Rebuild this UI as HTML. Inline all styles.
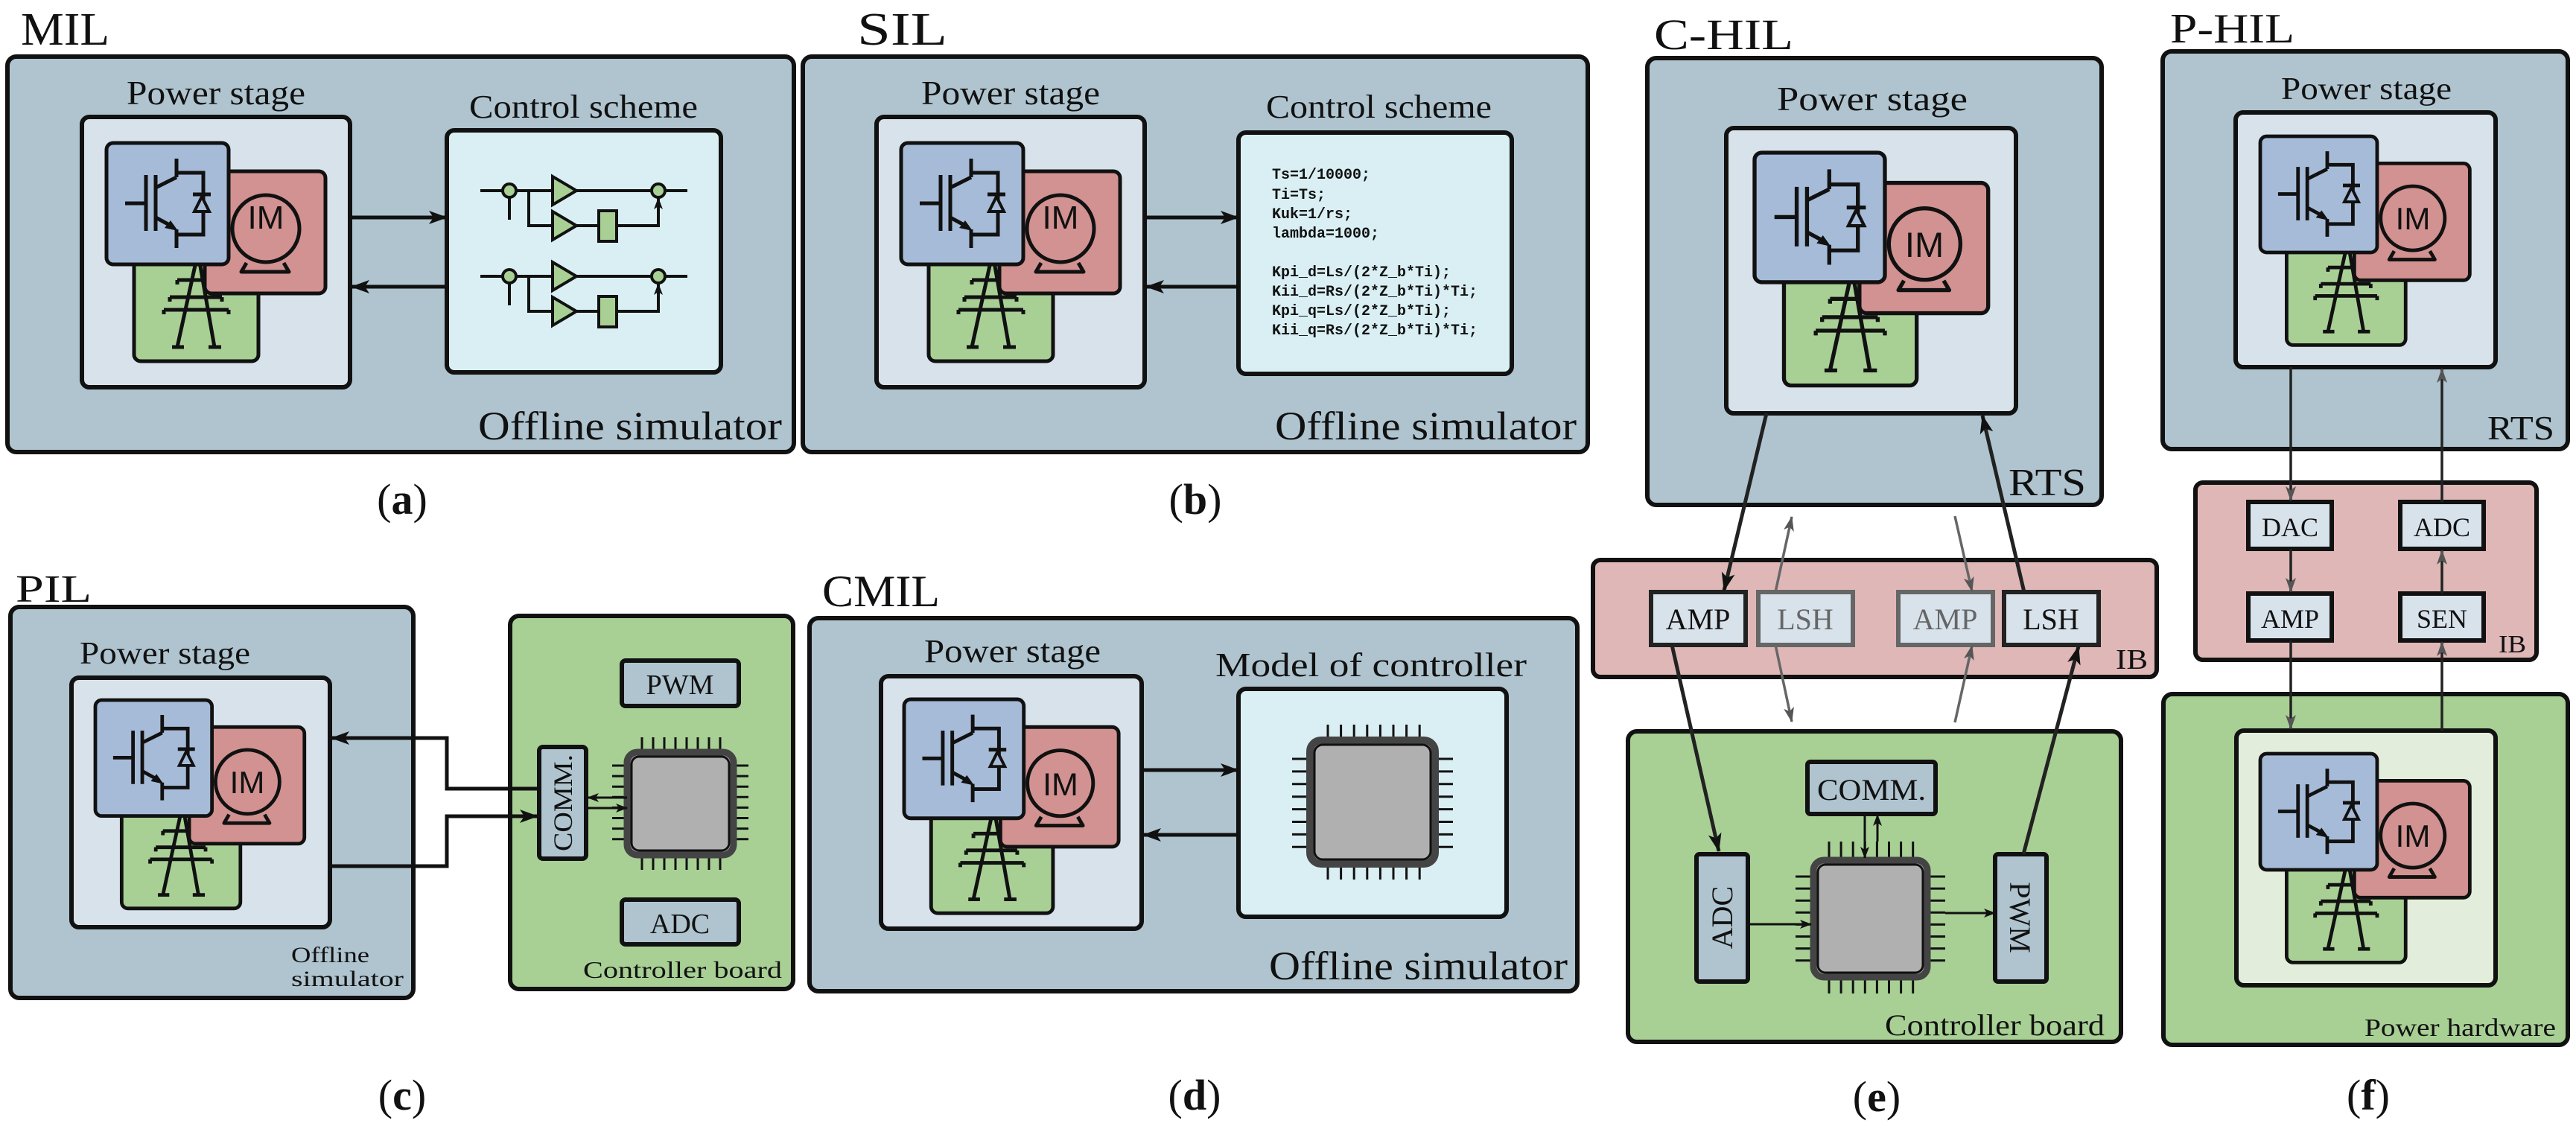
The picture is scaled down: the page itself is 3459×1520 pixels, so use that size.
<!DOCTYPE html>
<html><head><meta charset="utf-8"><style>
html,body{margin:0;padding:0;background:#fff}
svg{display:block}
text{font-family:"Liberation Serif",serif;fill:#111}
.s{font-family:"Liberation Sans",sans-serif}
.m{font-family:"Liberation Mono",monospace;font-weight:bold;font-size:20px}
.bx{stroke:#111;stroke-width:6}
.ln{stroke:#111;fill:none}
</style></head><body>
<svg width="3459" height="1520" viewBox="0 0 3459 1520" xmlns="http://www.w3.org/2000/svg">
<defs>
<marker id="a" markerUnits="userSpaceOnUse" markerWidth="26" markerHeight="20" refX="24" refY="10" orient="auto"><path d="M0,1 L25,10 L0,19 L6,10 z" fill="#111"/></marker>
<marker id="as" markerUnits="userSpaceOnUse" markerWidth="16" markerHeight="14" refX="15" refY="7" orient="auto"><path d="M0,1 L16,7 L0,13 L4,7 z" fill="#111"/></marker>
<marker id="ag" markerUnits="userSpaceOnUse" markerWidth="20" markerHeight="16" refX="19" refY="8" orient="auto"><path d="M0,1 L20,8 L0,15 L5,8 z" fill="#555"/></marker>
<g id="ps">
<rect x="37" y="140" width="167" height="153" rx="9" fill="#a8d095" stroke="#111" stroke-width="5"/>
<path d="M120,160 L95,274 M125,160 L145,274 M88,274 H104 M137,274 H154 M95,184 H150 M85,207 H155 M77,224 H164 M95,184 v6 M85,207 v6 M155,207 v6 M77,224 v6 M164,224 v6" stroke="#111" stroke-width="5" fill="none"/>
<rect x="132" y="38" width="162" height="164" rx="9" fill="#d19291" stroke="#111" stroke-width="5"/>
<circle cx="214" cy="115" r="45" fill="none" stroke="#111" stroke-width="5"/>
<path d="M188,161 L181,173 H245 L238,161" fill="none" stroke="#111" stroke-width="5" stroke-linejoin="round"/>
<rect x="0" y="0" width="164" height="163" rx="9" fill="#a6bbd7" stroke="#111" stroke-width="5"/>
<path d="M25,81 H52 M53,43 V118 M66,43 V118 M66,60 L94,46 M94,21 V46 M94,40 H130 V123 H94 M66,100 L90,113 M94,116 V141 M116,69 H140" stroke="#111" stroke-width="5" fill="none"/>
<polygon points="96,118 78,114 86,104" fill="#111"/>
<polygon points="128,72 118,92 138,92" fill="#a6bbd7" stroke="#111" stroke-width="4"/>
</g>
<g id="ctl">
<path d="M645,256 H675 M693,256 H742 M774,256 H875 M893,256 H923 M684,295 V265 M710,256 V303 H742 M774,303 H804 M828,303 H884 V265" class="ln" stroke-width="4"/>
<path d="M660,256 H676 M700,256 H741 M780,256 H876 M893,256 H923 M684,295 V266 M720,303 H741 M780,303 H803 M884,300 V266" class="ln" stroke-width="1" marker-end="url(#as)"/>
<circle cx="684" cy="256" r="9" fill="#a8d095" stroke="#111" stroke-width="4"/>
<circle cx="884" cy="256" r="9" fill="#a8d095" stroke="#111" stroke-width="4"/>
<polygon points="742,237 742,275 774,256" fill="#a8d095" stroke="#111" stroke-width="4"/>
<polygon points="742,284 742,322 774,303" fill="#a8d095" stroke="#111" stroke-width="4"/>
<rect x="804" y="283" width="24" height="41" fill="#a8d095" stroke="#111" stroke-width="4"/>
</g>
</defs>

<!-- ============ MIL ============ -->
<text x="28" y="60" font-size="62" textLength="119" lengthAdjust="spacingAndGlyphs">MIL</text>
<rect x="10" y="76" width="1056" height="531" rx="12" fill="#afc4cf" class="bx"/>
<text x="170" y="140" font-size="46" textLength="240" lengthAdjust="spacingAndGlyphs">Power stage</text>
<rect x="110" y="157" width="360" height="363" rx="10" fill="#d8e2eb" class="bx" stroke-width="5"/>
<use href="#ps" transform="translate(143,192)"/>
<text class="s" x="357" y="307" font-size="44" text-anchor="middle">IM</text>
<text x="630" y="158" font-size="44" textLength="307" lengthAdjust="spacingAndGlyphs">Control scheme</text>
<rect x="600" y="175" width="368" height="325" rx="10" fill="#d9eff3" class="bx" stroke-width="5"/>
<use href="#ctl"/>
<use href="#ctl" transform="translate(0,115)"/>
<line x1="472" y1="292" x2="600" y2="292" class="ln" stroke-width="5" marker-end="url(#a)"/>
<line x1="600" y1="385" x2="472" y2="385" class="ln" stroke-width="5" marker-end="url(#a)"/>
<text x="642" y="590" font-size="54" textLength="408" lengthAdjust="spacingAndGlyphs">Offline simulator</text>
<text x="540" y="690" font-size="58" text-anchor="middle">(<tspan font-weight="bold">a</tspan>)</text>

<!-- ============ SIL ============ -->
<text x="1151" y="60" font-size="62" textLength="121" lengthAdjust="spacingAndGlyphs">SIL</text>
<rect x="1078" y="76" width="1054" height="531" rx="12" fill="#afc4cf" class="bx"/>
<text x="1237" y="140" font-size="46" textLength="240" lengthAdjust="spacingAndGlyphs">Power stage</text>
<rect x="1177" y="157" width="360" height="363" rx="10" fill="#d8e2eb" class="bx" stroke-width="5"/>
<use href="#ps" transform="translate(1210,192)"/>
<text class="s" x="1424" y="307" font-size="44" text-anchor="middle">IM</text>
<text x="1700" y="158" font-size="44" textLength="303" lengthAdjust="spacingAndGlyphs">Control scheme</text>
<rect x="1663" y="178" width="367" height="324" rx="10" fill="#d9eff3" class="bx" stroke-width="5"/>
<text class="m" x="1708" y="240">Ts=1/10000;</text>
<text class="m" x="1708" y="267">Ti=Ts;</text>
<text class="m" x="1708" y="293">Kuk=1/rs;</text>
<text class="m" x="1708" y="319">lambda=1000;</text>
<text class="m" x="1708" y="371">Kpi_d=Ls/(2*Z_b*Ti);</text>
<text class="m" x="1708" y="397">Kii_d=Rs/(2*Z_b*Ti)*Ti;</text>
<text class="m" x="1708" y="423">Kpi_q=Ls/(2*Z_b*Ti);</text>
<text class="m" x="1708" y="449">Kii_q=Rs/(2*Z_b*Ti)*Ti;</text>
<line x1="1539" y1="292" x2="1663" y2="292" class="ln" stroke-width="5" marker-end="url(#a)"/>
<line x1="1663" y1="385" x2="1539" y2="385" class="ln" stroke-width="5" marker-end="url(#a)"/>
<text x="1712" y="590" font-size="54" textLength="405" lengthAdjust="spacingAndGlyphs">Offline simulator</text>
<text x="1605" y="690" font-size="58" text-anchor="middle">(<tspan font-weight="bold">b</tspan>)</text>

<!-- ============ PIL ============ -->
<text x="21" y="808" font-size="52" textLength="102" lengthAdjust="spacingAndGlyphs">PIL</text>
<rect x="14" y="815" width="541" height="525" rx="12" fill="#afc4cf" class="bx"/>
<text x="107" y="891" font-size="42" textLength="229" lengthAdjust="spacingAndGlyphs">Power stage</text>
<rect x="96" y="910" width="347" height="335" rx="10" fill="#d8e2eb" class="bx" stroke-width="5"/>
<use href="#ps" transform="translate(128,940) scale(0.955)"/>
<text class="s" x="332" y="1065" font-size="42" text-anchor="middle">IM</text>
<text x="391" y="1292" font-size="30" textLength="105" lengthAdjust="spacingAndGlyphs">Offline</text>
<text x="391" y="1324" font-size="30" textLength="151" lengthAdjust="spacingAndGlyphs">simulator</text>
<rect x="685" y="827" width="380" height="501" rx="12" fill="#a8d095" class="bx"/>
<rect x="835" y="887" width="157" height="61" rx="5" fill="#afc4cf" class="bx" stroke-width="5"/>
<text x="913" y="932" font-size="38" text-anchor="middle">PWM</text>
<rect x="835" y="1208" width="157" height="60" rx="5" fill="#afc4cf" class="bx" stroke-width="5"/>
<text x="913" y="1253" font-size="38" text-anchor="middle">ADC</text>
<rect x="724" y="1003" width="63" height="150" rx="5" fill="#afc4cf" class="bx" stroke-width="5"/>
<text x="0" y="0" font-size="36" text-anchor="middle" textLength="130" lengthAdjust="spacingAndGlyphs" transform="translate(768,1078) rotate(-90)">COMM.</text>
<line x1="860.5" y1="1000" x2="968.5" y2="1000" stroke="#111" stroke-width="20" stroke-dasharray="3 12"/>
<line x1="860.5" y1="1158" x2="968.5" y2="1158" stroke="#111" stroke-width="20" stroke-dasharray="3 12"/>
<line x1="832" y1="1026.5" x2="832" y2="1128.5" stroke="#111" stroke-width="20" stroke-dasharray="3 11.1"/>
<line x1="995" y1="1026.5" x2="995" y2="1128.5" stroke="#111" stroke-width="20" stroke-dasharray="3 11.1"/>
<rect x="842" y="1010" width="143" height="138" rx="14" fill="#b0b0b0" stroke="#444" stroke-width="9"/>
<rect x="848" y="1016" width="131" height="126" rx="10" fill="none" stroke="#111" stroke-width="3"/>
<line x1="842" y1="1071" x2="789" y2="1071" class="ln" stroke-width="3" marker-end="url(#as)"/>
<line x1="789" y1="1085" x2="842" y2="1085" class="ln" stroke-width="3" marker-end="url(#as)"/>
<path d="M724,1059 H600 V991 H445" class="ln" stroke="#222" stroke-width="5" marker-end="url(#a)"/>
<path d="M443,1163 H600 V1096 H722" class="ln" stroke="#222" stroke-width="5" marker-end="url(#a)"/>
<text x="783" y="1313" font-size="32" textLength="267" lengthAdjust="spacingAndGlyphs">Controller board</text>
<text x="540" y="1490" font-size="58" text-anchor="middle">(<tspan font-weight="bold">c</tspan>)</text>

<!-- ============ CMIL ============ -->
<text x="1104" y="814" font-size="60" textLength="158" lengthAdjust="spacingAndGlyphs">CMIL</text>
<rect x="1087" y="830" width="1031" height="501" rx="12" fill="#afc4cf" class="bx"/>
<text x="1241" y="889" font-size="44" textLength="237" lengthAdjust="spacingAndGlyphs">Power stage</text>
<rect x="1183" y="908" width="350" height="339" rx="10" fill="#d8e2eb" class="bx" stroke-width="5"/>
<use href="#ps" transform="translate(1214,939) scale(0.98)"/>
<text class="s" x="1424" y="1068" font-size="43" text-anchor="middle">IM</text>
<text x="1632" y="908" font-size="46" textLength="418" lengthAdjust="spacingAndGlyphs">Model of controller</text>
<rect x="1663" y="925" width="360" height="306" rx="10" fill="#d9eff3" class="bx" stroke-width="5"/>
<line x1="1781.5" y1="984" x2="1908.5" y2="984" stroke="#111" stroke-width="22" stroke-dasharray="3 14.6"/>
<line x1="1781.5" y1="1170" x2="1908.5" y2="1170" stroke="#111" stroke-width="22" stroke-dasharray="3 14.6"/>
<line x1="1747" y1="1017.5" x2="1747" y2="1139" stroke="#111" stroke-width="24" stroke-dasharray="3 13.9"/>
<line x1="1939" y1="1017.5" x2="1939" y2="1139" stroke="#111" stroke-width="24" stroke-dasharray="3 13.9"/>
<rect x="1759" y="994" width="168" height="166" rx="15" fill="#b0b0b0" stroke="#444" stroke-width="10"/>
<rect x="1765" y="1000" width="156" height="154" rx="11" fill="none" stroke="#111" stroke-width="3"/>
<line x1="1535" y1="1034" x2="1663" y2="1034" class="ln" stroke-width="5" marker-end="url(#a)"/>
<line x1="1663" y1="1121" x2="1535" y2="1121" class="ln" stroke-width="5" marker-end="url(#a)"/>
<text x="1704" y="1315" font-size="54" textLength="401" lengthAdjust="spacingAndGlyphs">Offline simulator</text>
<text x="1604" y="1490" font-size="58" text-anchor="middle">(<tspan font-weight="bold">d</tspan>)</text>

<!-- ============ C-HIL ============ -->
<text x="2221" y="66" font-size="58" textLength="187" lengthAdjust="spacingAndGlyphs">C-HIL</text>
<rect x="2212" y="78" width="610" height="600" rx="12" fill="#afc4cf" class="bx"/>
<text x="2386" y="148" font-size="46" textLength="256" lengthAdjust="spacingAndGlyphs">Power stage</text>
<rect x="2318" y="172" width="389" height="383" rx="10" fill="#d8e2eb" class="bx" stroke-width="5"/>
<use href="#ps" transform="translate(2356,205) scale(1.067)"/>
<text class="s" x="2584" y="345" font-size="47" text-anchor="middle">IM</text>
<text x="2697" y="665" font-size="52" textLength="104" lengthAdjust="spacingAndGlyphs">RTS</text>
<rect x="2139" y="752" width="757" height="157" rx="10" fill="#dfb7b7" class="bx"/>
<rect x="2217" y="795" width="127" height="71" fill="#d8e2eb" stroke="#222" stroke-width="6"/>
<text x="2280" y="845" font-size="40" text-anchor="middle">AMP</text>
<rect x="2361" y="795" width="127" height="71" fill="#d8e2eb" stroke="#666" stroke-width="6"/>
<text x="2424" y="845" font-size="40" text-anchor="middle" style="fill:#666">LSH</text>
<rect x="2549" y="795" width="127" height="71" fill="#d8e2eb" stroke="#666" stroke-width="6"/>
<text x="2612" y="845" font-size="40" text-anchor="middle" style="fill:#666">AMP</text>
<rect x="2691" y="795" width="127" height="71" fill="#d8e2eb" stroke="#222" stroke-width="6"/>
<text x="2754" y="845" font-size="40" text-anchor="middle">LSH</text>
<text x="2841" y="898" font-size="38" textLength="43" lengthAdjust="spacingAndGlyphs">IB</text>
<rect x="2186" y="982" width="662" height="417" rx="12" fill="#a8d095" class="bx"/>
<rect x="2427" y="1023" width="172" height="70" rx="4" fill="#afc4cf" class="bx" stroke-width="5"/>
<text x="2513" y="1074" font-size="40" text-anchor="middle" textLength="146" lengthAdjust="spacingAndGlyphs">COMM.</text>
<rect x="2278" y="1147" width="69" height="171" rx="4" fill="#afc4cf" class="bx" stroke-width="5"/>
<text x="0" y="0" font-size="40" text-anchor="middle" transform="translate(2326,1232) rotate(-90)">ADC</text>
<rect x="2679" y="1147" width="69" height="171" rx="4" fill="#afc4cf" class="bx" stroke-width="5"/>
<text x="0" y="0" font-size="40" text-anchor="middle" transform="translate(2699,1232) rotate(90)">PWM</text>
<line x1="2454.5" y1="1142" x2="2571" y2="1142" stroke="#111" stroke-width="24" stroke-dasharray="3 13.1"/>
<line x1="2454.5" y1="1323" x2="2571" y2="1323" stroke="#111" stroke-width="22" stroke-dasharray="3 13.1"/>
<line x1="2423" y1="1175.5" x2="2423" y2="1292" stroke="#111" stroke-width="24" stroke-dasharray="3 13.1"/>
<line x1="2600" y1="1175.5" x2="2600" y2="1292" stroke="#111" stroke-width="24" stroke-dasharray="3 13.1"/>
<rect x="2435" y="1155" width="153" height="157" rx="14" fill="#b0b0b0" stroke="#444" stroke-width="9"/>
<rect x="2441" y="1161" width="141" height="145" rx="10" fill="none" stroke="#111" stroke-width="3"/>
<line x1="2347" y1="1241" x2="2432" y2="1241" class="ln" stroke-width="3" marker-end="url(#as)"/>
<line x1="2612" y1="1226" x2="2679" y2="1226" class="ln" stroke-width="3" marker-end="url(#as)"/>
<line x1="2504" y1="1093" x2="2504" y2="1152" class="ln" stroke-width="3" marker-end="url(#as)"/>
<line x1="2521" y1="1130" x2="2521" y2="1094" class="ln" stroke-width="3" marker-end="url(#as)"/>
<g stroke="#222" stroke-width="5" fill="none">
<line x1="2372" y1="555" x2="2315" y2="793" marker-end="url(#a)"/>
<line x1="2718" y1="795" x2="2662" y2="558" marker-end="url(#a)"/>
<line x1="2245" y1="866" x2="2308" y2="1143" marker-end="url(#a)"/>
<line x1="2717" y1="1147" x2="2791" y2="868" marker-end="url(#a)"/>
</g>
<g stroke="#666" stroke-width="3.5" fill="none">
<line x1="2384" y1="795" x2="2406" y2="694" marker-end="url(#ag)"/>
<line x1="2384" y1="866" x2="2406" y2="969" marker-end="url(#ag)"/>
<line x1="2625" y1="693" x2="2648" y2="794" marker-end="url(#ag)"/>
<line x1="2625" y1="970" x2="2648" y2="867" marker-end="url(#ag)"/>
</g>
<text x="2531" y="1390" font-size="40" textLength="295" lengthAdjust="spacingAndGlyphs">Controller board</text>
<text x="2520" y="1492" font-size="58" text-anchor="middle">(<tspan font-weight="bold">e</tspan>)</text>

<!-- ============ P-HIL ============ -->
<text x="2914" y="57" font-size="56" textLength="167" lengthAdjust="spacingAndGlyphs">P-HIL</text>
<rect x="2904" y="69" width="544" height="534" rx="12" fill="#afc4cf" class="bx"/>
<text x="3063" y="133" font-size="42" textLength="229" lengthAdjust="spacingAndGlyphs">Power stage</text>
<rect x="3002" y="151" width="349" height="342" rx="10" fill="#d8e2eb" class="bx" stroke-width="5"/>
<use href="#ps" transform="translate(3035,183) scale(0.957)"/>
<text class="s" x="3240" y="308" font-size="42" text-anchor="middle">IM</text>
<text x="3340" y="590" font-size="46" textLength="90" lengthAdjust="spacingAndGlyphs">RTS</text>
<rect x="2948" y="648" width="458" height="238" rx="10" fill="#dfb7b7" class="bx"/>
<rect x="3019" y="674" width="112" height="63" fill="#d8e2eb" class="bx" stroke-width="6"/>
<text x="3075" y="720" font-size="36" text-anchor="middle">DAC</text>
<rect x="3223" y="674" width="112" height="63" fill="#d8e2eb" class="bx" stroke-width="6"/>
<text x="3279" y="720" font-size="36" text-anchor="middle">ADC</text>
<rect x="3019" y="797" width="112" height="63" fill="#d8e2eb" class="bx" stroke-width="6"/>
<text x="3075" y="843" font-size="36" text-anchor="middle">AMP</text>
<rect x="3223" y="797" width="112" height="63" fill="#d8e2eb" class="bx" stroke-width="6"/>
<text x="3279" y="843" font-size="36" text-anchor="middle">SEN</text>
<text x="3355" y="876" font-size="34" textLength="37" lengthAdjust="spacingAndGlyphs">IB</text>
<rect x="2905" y="932" width="543" height="471" rx="12" fill="#a8d095" class="bx"/>
<rect x="3003" y="981" width="348" height="342" rx="10" fill="#e2eedb" class="bx" stroke-width="5"/>
<use href="#ps" transform="translate(3035,1012) scale(0.957)"/>
<text class="s" x="3240" y="1137" font-size="42" text-anchor="middle">IM</text>
<g stroke="#222" stroke-width="3.5" fill="none">
<line x1="3076" y1="493" x2="3076" y2="672" marker-end="url(#ag)"/>
<line x1="3076" y1="737" x2="3076" y2="795" marker-end="url(#ag)"/>
<line x1="3076" y1="860" x2="3076" y2="979" marker-end="url(#ag)"/>
<line x1="3279" y1="981" x2="3279" y2="862" marker-end="url(#ag)"/>
<line x1="3279" y1="797" x2="3279" y2="739" marker-end="url(#ag)"/>
<line x1="3279" y1="674" x2="3279" y2="495" marker-end="url(#ag)"/>
</g>
<text x="3175" y="1391" font-size="34" textLength="257" lengthAdjust="spacingAndGlyphs">Power hardware</text>
<text x="3180" y="1490" font-size="58" text-anchor="middle">(<tspan font-weight="bold">f</tspan>)</text>
</svg>
</body></html>
